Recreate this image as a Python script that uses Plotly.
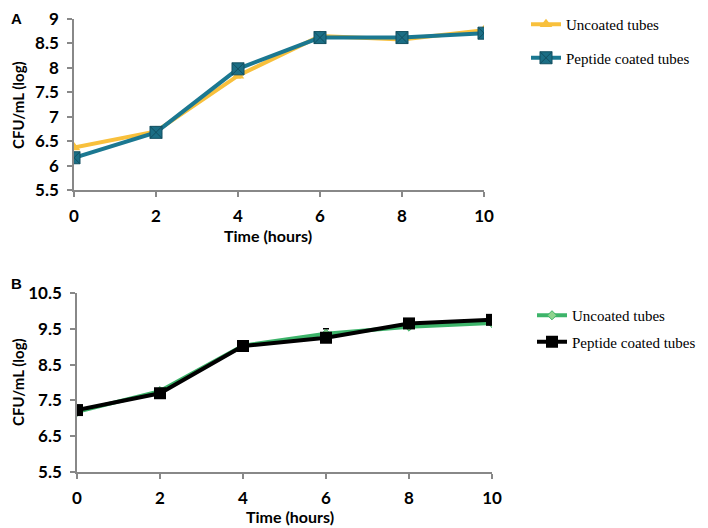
import plotly.graph_objects as go

hours = [0, 2, 4, 6, 8, 10]

a_uncoated = [6.37, 6.70, 7.84, 8.65, 8.58, 8.77]
a_peptide = [6.16, 6.68, 7.98, 8.62, 8.62, 8.71]
a_unc_err = [0.03, 0.02, 0.04, 0.03, 0.03, 0.03]
a_pep_err = [0.03, 0.02, 0.03, 0.03, 0.02, 0.02]

b_uncoated = [7.18, 7.76, 9.03, 9.36, 9.56, 9.66]
b_peptide = [7.23, 7.70, 9.02, 9.25, 9.65, 9.75]
b_unc_err = [0.03, 0.03, 0.05, 0.14, 0.04, 0.04]
b_pep_err = [0.03, 0.03, 0.03, 0.04, 0.03, 0.03]

a_yticks = [5.5, 6, 6.5, 7, 7.5, 8, 8.5, 9]
b_yticks = [5.5, 6.5, 7.5, 8.5, 9.5, 10.5]
series_names = ["Uncoated tubes", "Peptide coated tubes"]

# page body has an 8px margin; figure sized to fit the window
OFF = 8
W, H = 700, 520


def px(x):
    return (x - OFF) / W


def py(y):
    return 1 - (y - OFF) / H


fig = go.Figure()

fig.add_trace(go.Scatter(x=hours, y=a_uncoated, name=series_names[0], mode="lines+markers",
                         line=dict(color="#F8C03C", width=4),
                         marker=dict(symbol="triangle-up", size=11, color="#F8C03C"),
                         error_y=dict(type="data", array=a_unc_err, color="#F8C03C", thickness=1.5, width=3),
                         xaxis="x", yaxis="y", legend="legend", legendgroup="a1"))
fig.add_trace(go.Scatter(x=hours, y=a_peptide, name=series_names[1], mode="lines+markers",
                         line=dict(color="#1B7891", width=4),
                         marker=dict(symbol="square-x", size=12, color="#1B6E85",
                                     line=dict(color="#124F60", width=1)),
                         error_y=dict(type="data", array=a_pep_err, color="#1B7891", thickness=1.5, width=3),
                         xaxis="x", yaxis="y", legend="legend", legendgroup="a2"))

fig.add_trace(go.Scatter(x=hours, y=b_uncoated, name=series_names[0], mode="lines+markers",
                         line=dict(color="#3DB46A", width=4),
                         marker=dict(symbol="diamond", size=7, color="#8FD48F",
                                     line=dict(color="#3DB46A", width=1)),
                         error_y=dict(type="data", array=b_unc_err, color="#000000", thickness=1.5, width=3),
                         xaxis="x2", yaxis="y2", legend="legend2", legendgroup="b1"))
fig.add_trace(go.Scatter(x=hours, y=b_peptide, name=series_names[1], mode="lines+markers",
                         line=dict(color="#000000", width=4),
                         marker=dict(symbol="square", size=12, color="#000000"),
                         error_y=dict(type="data", array=b_pep_err, color="#000000", thickness=1.5, width=3),
                         xaxis="x2", yaxis="y2", legend="legend2", legendgroup="b2"))

tickfont = dict(family="Lato", size=17, color="#000000", weight="bold")
axcommon = dict(showgrid=False, zeroline=False, showline=True, linecolor="#888888", linewidth=1.5,
                ticks="outside", ticklen=5, tickcolor="#888888", tickwidth=1.5, tickfont=tickfont,
                ticklabelstandoff=5, ticklabeloverflow="allow")

legfont = dict(family="Liberation Serif", size=15, color="#000000")
fig.update_layout(
    width=W, height=H, margin=dict(l=0, r=0, t=0, b=0, autoexpand=False),
    paper_bgcolor="white", plot_bgcolor="white", showlegend=True,
    xaxis=dict(domain=[px(74), px(484)], range=[0, 10], tickvals=hours, anchor="y", **axcommon),
    yaxis=dict(domain=[py(190), py(19)], range=[5.5, 9], tickvals=a_yticks, anchor="x", **axcommon),
    xaxis2=dict(domain=[px(77), px(492)], range=[0, 10], tickvals=hours, anchor="y2", **axcommon),
    yaxis2=dict(domain=[py(472), py(293)], range=[5.5, 10.5], tickvals=b_yticks, anchor="x2", **axcommon),
    legend=dict(x=px(526), y=py(8), xanchor="left", yanchor="top", bgcolor="rgba(0,0,0,0)",
                font=legfont, tracegroupgap=11, itemwidth=30, traceorder="grouped"),
    legend2=dict(x=px(532), y=py(299), xanchor="left", yanchor="top", bgcolor="rgba(0,0,0,0)",
                 font=legfont, tracegroupgap=4, itemwidth=30, traceorder="grouped"),
)

labfont = dict(family="Lato", size=15, color="#000000", weight="bold")
ann = dict(xref="paper", yref="paper", showarrow=False, xanchor="center", yanchor="middle")
fig.add_annotation(text="CFU/mL (log)", x=px(18), y=py(105), textangle=-90, font=labfont, **ann)
fig.add_annotation(text="Time (hours)", x=px(268), y=py(235), font=dict(labfont, size=16), **ann)
fig.add_annotation(text="CFU/mL (log)", x=px(18), y=py(382), textangle=-90, font=labfont, **ann)
fig.add_annotation(text="Time (hours)", x=px(290), y=py(516), font=dict(labfont, size=16), **ann)
pfont = dict(family="Liberation Sans", size=15, color="#000000", weight="bold")
fig.add_annotation(text="A", x=px(16), y=py(18), font=pfont, **ann)
fig.add_annotation(text="B", x=px(16), y=py(283), font=pfont, **ann)

fig.write_html("out.html")
